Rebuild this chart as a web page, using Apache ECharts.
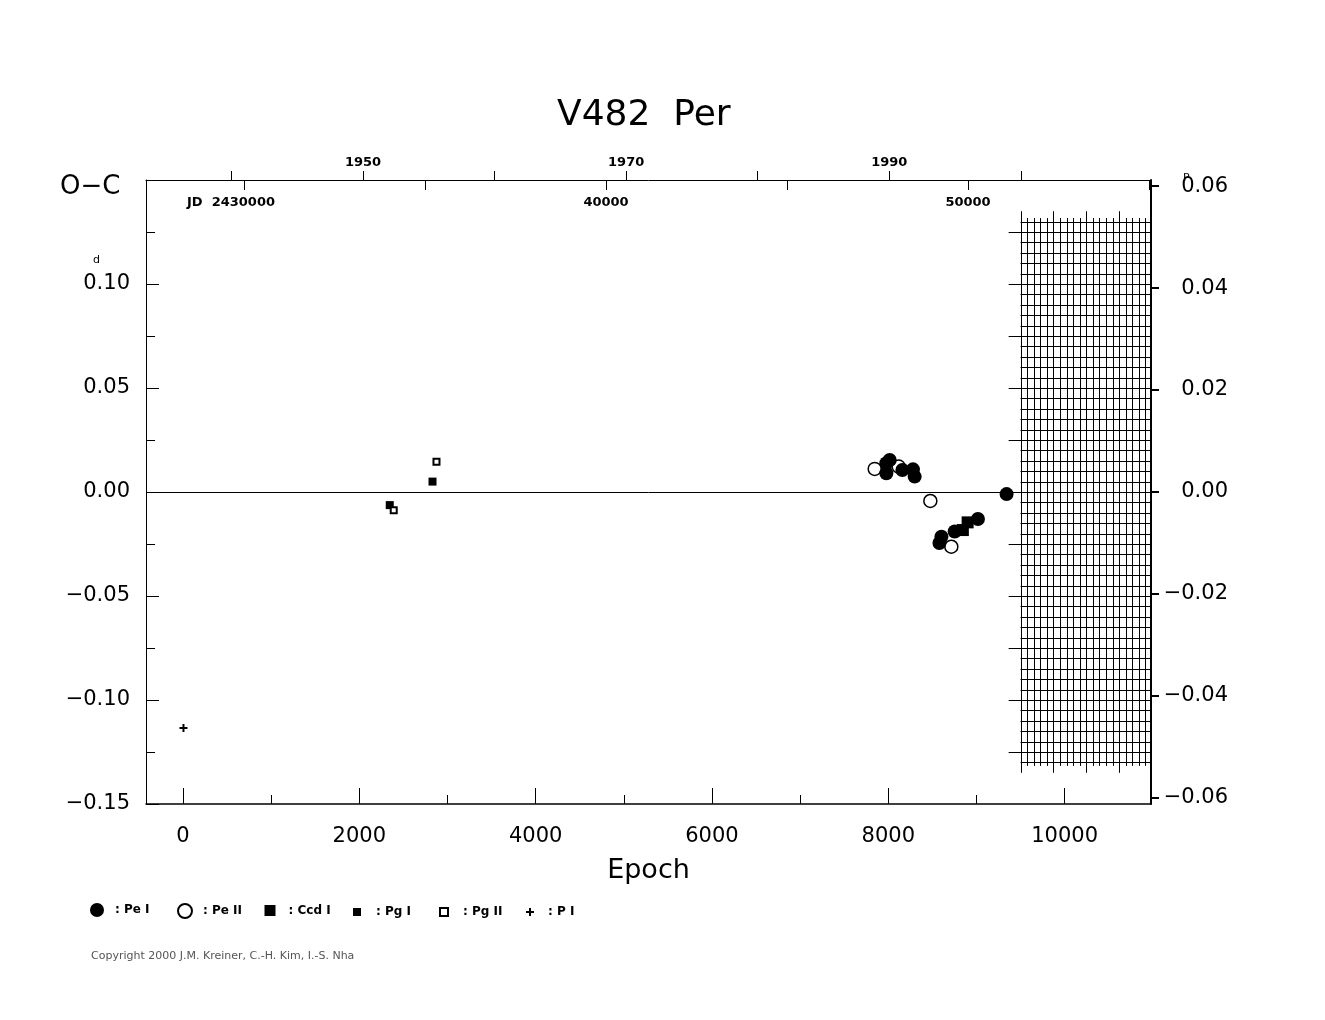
<!DOCTYPE html>
<html><head><meta charset="utf-8">
<script src="https://cdn.jsdelivr.net/npm/echarts@6/dist/echarts.min.js"></script>
<style>html,body{margin:0;padding:0;background:#fff}#c{width:1325px;height:1020px}</style>
</head><body><div id="c"></div>
<script>
// ---- data (epoch, O-C in days) ----
const peI  = [[7978,0.0090],[7978,0.0138],[8016,0.0154],[8160,0.0106],[8280,0.0109],[8299,0.0074],
              [8580,-0.0245],[8603,-0.0215],[8753,-0.0190],[9017,-0.0130],[9342,-0.0010]];
const peII = [[7846,0.0111],[8118,0.0122],[8477,-0.0043],[8715,-0.0263]];
const ccdI = [[8846,-0.0183],[8900,-0.0146]];
const pgI  = [[2345,-0.0063],[2830,0.0050]];
const pgII = [[2390,-0.0088],[2875,0.0145]];
const pI   = [[5,-0.1135]];

// ---- axes ----
const epochLabels = [0,2000,4000,6000,8000,10000];
const epochMinorTicks = [1000,3000,5000,7000,9000];
const yearTicks = [1940,1950,1960,1970,1980,1990,2000];
const yearLabels = [1950,1970,1990];
const jdTicks = [30000,35000,40000,45000,50000,55000];
const jdLabels = [30000,40000,50000];
const phaseTicks = [-0.06,-0.04,-0.02,0,0.02,0.04,0.06];

// ---- hatched (future) region ----
const hatchEpochStart = 9500, hatchEpochStep = 74.6, hatchCount = 20;
const hatchOcLimit = 0.13, hatchOcStep = 0.005;

const FONT = 'DejaVu Sans';
function fmt(v){ const s = Math.abs(v).toFixed(2); return v < -1e-9 ? '\u2212' + s : s; }

function renderHatch(params, api){
  const cs = params.coordSys; const right = cs.x + cs.width;
  const ch = [];
  const st = {stroke:'#000', lineWidth:1};
  const n = Math.round(2*hatchOcLimit/hatchOcStep);
  for (let k=0;k<=n;k++){
    const oc = -hatchOcLimit + k*hatchOcStep;
    const q = oc/0.025; const major = Math.abs(q - Math.round(q)) < 1e-6;
    const p = api.coord([major ? hatchEpochStart-135 : hatchEpochStart, oc]);
    const y = Math.round(p[1]) + 0.5;
    ch.push({type:'line', shape:{x1:p[0], y1:y, x2:right, y2:y}, style:st});
  }
  for (let i=0;i<hatchCount;i++){
    const e = hatchEpochStart + i*hatchEpochStep;
    const lim = (i%5===0) ? 0.135 : 0.1317;
    const a = api.coord([e, lim]), b = api.coord([e, -lim]);
    const x = Math.round(a[0]) + 0.5;
    ch.push({type:'line', shape:{x1:x, y1:a[1], x2:x, y2:b[1]}, style:st});
  }
  return {type:'group', children:ch};
}

const plusPath = 'path://M3,0h2v3h3v2h-3v3h-2v-3h-3v-2h3z';
const legendBase = {orient:'horizontal', padding:0, selectedMode:false,
  formatter: n => ': ' + n, textStyle:{fontFamily:FONT, fontSize:12, fontWeight:'bold', color:'#000'}};
function lg(name, left, size, gap){
  return Object.assign({}, legendBase, {data:[name], left:left - size/2, top:910 - size/2,
    itemWidth:size, itemHeight:size, textStyle:Object.assign({}, legendBase.textStyle, {padding:[0,0,0,gap]})});
}
const solid = {opacity:1};

const chart = echarts.init(document.getElementById('c'), null, {renderer:'canvas'});
chart.setOption({
  animation:false,
  backgroundColor:'#fff',
  title:{text:'V482  Per', left:552, top:93, textStyle:{fontFamily:FONT, fontSize:36, fontWeight:'normal', color:'#000'}},
  grid:{left:146, right:174, top:180, bottom:216, containLabel:false},
  legend:[
    lg('Pe I', 97, 14, 6),
    lg('Pe II', 184, 14, 6),
    lg('Ccd I', 270, 11, 8),
    lg('Pg I', 357, 8, 10),
    lg('Pg II', 443, 8, 10),
    lg('P I', 530, 8, 9)
  ],
  xAxis:[
    {type:'value', position:'bottom', min:-420, max:10980,
      axisLine:{show:true, onZero:false, lineStyle:{color:'#000', width:1.5}},
      axisTick:{show:true, customValues:epochLabels, inside:true, length:16, lineStyle:{color:'#000'}},
      axisLabel:{customValues:epochLabels, margin:22, fontFamily:FONT, fontSize:21, color:'#000', formatter: v => String(v)},
      splitLine:{show:false},
      name:'Epoch', nameLocation:'middle', nameGap:53,
      nameTextStyle:{fontFamily:FONT, fontSize:27, color:'#000'}},
    {type:'value', position:'bottom', min:-420, max:10980,
      axisLine:{show:false, onZero:false},
      axisTick:{show:true, customValues:epochMinorTicks, inside:true, length:9, lineStyle:{color:'#000'}},
      axisLabel:{show:false}, splitLine:{show:false}},
    {type:'value', position:'top', min:1933.5, max:2009.9,
      axisLine:{show:true, onZero:false, lineStyle:{color:'#000', width:1}},
      axisTick:{show:true, customValues:yearTicks, inside:false, length:9, lineStyle:{color:'#000'}},
      axisLabel:{customValues:yearLabels, margin:11, fontFamily:FONT, fontSize:13, fontWeight:'bold', color:'#000', formatter: v => String(v)},
      splitLine:{show:false}},
    {type:'value', position:'top', min:27293, max:55055,
      axisLine:{show:false, onZero:false},
      axisTick:{show:true, customValues:jdTicks, inside:true, length:10, lineStyle:{color:'#000'}},
      axisLabel:{customValues:jdLabels, inside:true, margin:16, fontFamily:FONT, fontSize:13, fontWeight:'bold', color:'#000',
        formatter: v => v === 30000 ? '{j|JD  2430000}' : String(v),
        rich:{j:{fontFamily:FONT, fontSize:13, fontWeight:'bold', color:'#000', padding:[0,26,0,0]}}},
      splitLine:{show:false}}
  ],
  yAxis:[
    {type:'value', position:'left', min:-0.15, max:0.15, interval:0.05,
      axisLine:{show:true, onZero:false, lineStyle:{color:'#000', width:1}},
      axisTick:{show:true, inside:true, length:13, lineStyle:{color:'#000'}},
      minorTick:{show:true, splitNumber:2, length:9, lineStyle:{color:'#000'}},
      axisLabel:{margin:16, fontFamily:FONT, fontSize:21, color:'#000',
        formatter: v => (Math.abs(v-0.15) < 1e-6) ? '' : fmt(v)},
      splitLine:{show:false}, minorSplitLine:{show:false}},
    {type:'value', position:'right', min:-0.0612, max:0.0612,
      axisLine:{show:true, onZero:false, lineStyle:{color:'#000', width:2}},
      axisTick:{show:true, customValues:phaseTicks, inside:false, length:8, lineStyle:{color:'#000', width:2}},
      axisLabel:{customValues:phaseTicks, align:'right', margin:77, fontFamily:FONT, fontSize:21, color:'#000',
        formatter: v => fmt(v)},
      splitLine:{show:false}}
  ],
  graphic:[
    {type:'text', left:60, top:174, style:{text:'O\u2212C', font:'26px "DejaVu Sans"', fill:'#000'}},
    {type:'text', left:93, top:255, style:{text:'d', font:'11px "DejaVu Sans"', fill:'#000'}},
    {type:'text', left:1183, top:173, style:{text:'P', font:'11px "DejaVu Sans"', fill:'#000'}},
    {type:'text', left:91, top:951, style:{text:'Copyright 2000 J.M. Kreiner, C.-H. Kim, I.-S. Nha', font:'11px "DejaVu Sans"', fill:'#555'}}
  ],
  series:[
    {type:'custom', name:'hatch', renderItem:renderHatch, data:[[0,0]], silent:true, z:1, clip:true, xAxisIndex:0, yAxisIndex:0},
    {type:'scatter', name:'Pg I', data:pgI, symbol:'rect', symbolSize:8, itemStyle:Object.assign({color:'#000'}, solid), z:3, emphasis:{disabled:true},
      markLine:{silent:true, symbol:'none', label:{show:false}, lineStyle:{color:'#000', width:1, type:'solid', opacity:1}, data:[{yAxis:0}]}},
    {type:'scatter', name:'Pg II', data:pgII, symbol:'rect', symbolSize:6, itemStyle:Object.assign({color:'#fff', borderColor:'#000', borderWidth:2}, solid), z:3, emphasis:{disabled:true}},
    {type:'scatter', name:'P I', data:pI, symbol:plusPath, symbolSize:8, itemStyle:Object.assign({color:'#000'}, solid), z:3, emphasis:{disabled:true}},
    {type:'scatter', name:'Pe II', data:peII, symbol:'circle', symbolSize:13, itemStyle:Object.assign({color:'#fff', borderColor:'#000', borderWidth:1.5}, solid), z:3, emphasis:{disabled:true}},
    {type:'scatter', name:'Pe I', data:peI, symbol:'circle', symbolSize:14, itemStyle:Object.assign({color:'#000'}, solid), z:4, emphasis:{disabled:true}},
    {type:'scatter', name:'Ccd I', data:ccdI, symbol:'rect', symbolSize:12, itemStyle:Object.assign({color:'#000'}, solid), z:4, emphasis:{disabled:true}}
  ]
});
</script></body></html>
